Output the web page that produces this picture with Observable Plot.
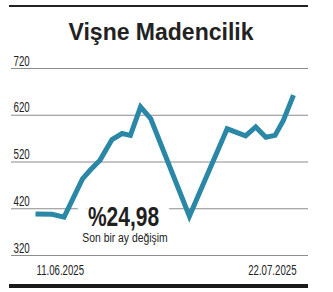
<!DOCTYPE html>
<html>
<head>
<meta charset="utf-8">
<script src="https://cdn.jsdelivr.net/npm/d3@7"></script>
<script src="https://cdn.jsdelivr.net/npm/@observablehq/plot@0.6"></script>
<style>
  body { margin: 0; background: #fff; }
  #wrap { position: relative; width: 333px; height: 292px; overflow: hidden; background: #fff; }
  #wrap svg { position: absolute; left: 0; top: 0; }
  .rule-top { position: absolute; left: 9px; width: 299px; top: 5px; height: 2px; background: #222; }
  .rule-bottom { position: absolute; left: 9px; width: 299px; top: 284px; height: 4px; background: #1a1a1a; }
  .title { position: absolute; left: 0; width: 322px; top: 17px; text-align: center;
           font-family: "Liberation Sans", Arial, sans-serif; font-weight: bold; font-size: 23px;
           color: #222; line-height: 30px; }
</style>
</head>
<body>
<div id="wrap">
  <div class="rule-top"></div>
  <div class="title">Vişne Madencilik</div>
  <div class="rule-bottom"></div>
</div>
<script>
const title = "Vişne Madencilik";
// trading-day position and price
const gun   = [0, 1.8, 3.1, 5.1, 6.0, 7.0, 8.3, 9.4, 10.3, 11.4, 12.5, 16.7, 20.8, 22.8, 23.9, 25.0, 26.0, 26.9, 28.0];
const fiyat = [409, 408, 402, 484, 504, 524, 568, 581, 577, 638, 613, 404, 591, 576, 595, 573, 577, 609, 663];
const yTicks = [320, 420, 520, 620, 720];
const dateLabels = ["11.06.2025", "22.07.2025"];
const changeLabel = "%24,98";
const changeSub = "Son bir ay değişim";

const data = gun.map((g, i) => ({gun: g, fiyat: fiyat[i]}));

const sans = "'Liberation Sans', Arial, sans-serif";

// horizontally condense text (the reference uses a condensed face)
const condense = s => (index, scales, values, dimensions, context, next) => {
  const g = next(index, scales, values, dimensions, context);
  g.querySelectorAll("text").forEach(t => {
    const tr = t.getAttribute("transform") || "";
    t.setAttribute("transform", `${tr} scale(${s},1)`);
  });
  return g;
};

const chart = Plot.plot({
  width: 333,
  height: 292,
  marginLeft: 35,
  marginRight: 40,
  marginTop: 68,
  marginBottom: 37,
  x: {domain: [0, 28], axis: null},
  y: {domain: [320, 720], axis: null},
  style: {background: "transparent", overflow: "visible"},
  marks: [
    Plot.ruleY(yTicks, {stroke: "#8c8c8c", strokeWidth: 1.2, insetLeft: -24, insetRight: -15}),
    Plot.text(yTicks, {
      y: d => d, text: d => String(d), frameAnchor: "left", dx: -22, dy: -3,
      lineAnchor: "bottom", textAnchor: "start",
      fontFamily: sans, fontSize: 15, fill: "#222", render: condense(0.65)
    }),
    Plot.text([changeLabel], {
      text: d => d, frameAnchor: "bottom-left", dx: 88, dy: -30,
      lineAnchor: "bottom", textAnchor: "middle",
      fontFamily: sans, fontWeight: "bold", fontSize: 28, fill: "#1f1f1f",
      stroke: "white", strokeWidth: 29, paintOrder: "stroke", strokeLinejoin: "round",
      render: condense(0.75)
    }),
    Plot.text([changeSub], {
      text: d => d, frameAnchor: "bottom-left", dx: 89.5, dy: -14,
      lineAnchor: "bottom", textAnchor: "middle",
      fontFamily: sans, fontSize: 13.5, fill: "#222", render: condense(0.77)
    }),
    Plot.line(data, {
      x: "gun", y: "fiyat", stroke: "#2a87a5", strokeWidth: 5,
      strokeLinejoin: "miter", strokeLinecap: "butt", strokeMiterlimit: 10
    }),
    Plot.text([dateLabels[0]], {
      x: () => gun[0], text: d => d, textAnchor: "start", frameAnchor: "bottom",
      dx: 1, dy: 19, lineAnchor: "bottom",
      fontFamily: sans, fontSize: 14, fill: "#222", render: condense(0.69)
    }),
    Plot.text([dateLabels[1]], {
      x: () => gun[gun.length - 1], text: d => d, textAnchor: "end", frameAnchor: "bottom",
      dx: 3, dy: 19, lineAnchor: "bottom",
      fontFamily: sans, fontSize: 14, fill: "#222", render: condense(0.69)
    })
  ]
});

document.getElementById("wrap").prepend(chart);
</script>
</body>
</html>
